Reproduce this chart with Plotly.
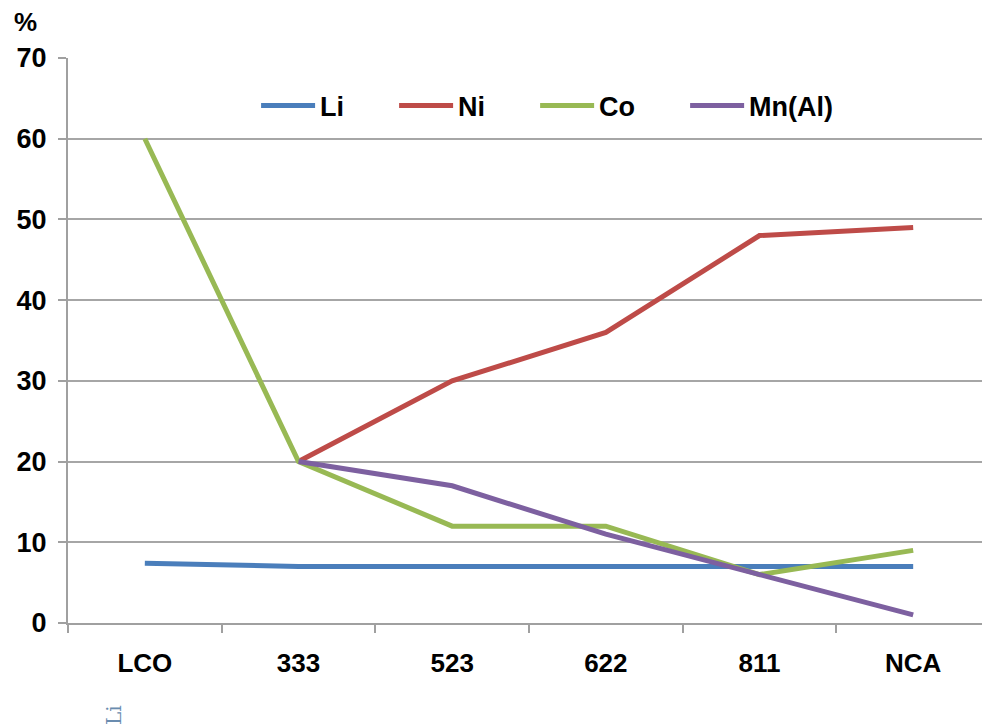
import plotly.graph_objects as go

categories = ["LCO", "333", "523", "622", "811", "NCA"]
li = [7.4, 7, 7, 7, 7, 7]
ni = [None, 20, 30, 36, 48, 49]
co = [60, 20, 12, 12, 6, 9]
mn = [None, 20, 17, 11, 6, 1]
series_names = ["Li", "Ni", "Co", "Mn(Al)"]
colors = ["#4A7EBB", "#BE4B48", "#98B954", "#7D60A0"]
y_ticks = [0, 10, 20, 30, 40, 50, 60, 70]

FONT = "Liberation Sans, Arial, sans-serif"
PAD = "\u00a0" * 6

fig = go.Figure()
for name, vals, col in zip(series_names, [li, ni, co, mn], colors):
    fig.add_trace(go.Scatter(
        x=categories, y=vals, name=name + PAD, mode="lines",
        line=dict(color=col, width=5), connectgaps=False,
    ))

# page body has an 8px default margin; compensate
fig.update_layout(
    width=982, height=720,
    margin=dict(l=60, r=0, t=50, b=105),
    paper_bgcolor="white", plot_bgcolor="white",
    font=dict(family=FONT, size=24, color="black"),
    showlegend=True,
    legend=dict(
        orientation="h", x=0.204, y=0.915, xanchor="left", yanchor="middle",
        bgcolor="rgba(0,0,0,0)", font=dict(family=FONT, size=27, color="black", weight="bold"),
        itemwidth=54, entrywidth=0, tracegroupgap=0,
    ),
    xaxis=dict(
        type="category", range=[-0.5, 5.5],
        showline=True, linecolor="#A0A0A0", linewidth=2,
        ticks="outside", tickson="boundaries", ticklen=8, tickcolor="#A0A0A0", tickwidth=1.5,
        showgrid=False, tickfont=dict(family=FONT, size=26, color="black", weight="bold"),
        ticklabelstandoff=16,
    ),
    yaxis=dict(
        range=[0, 70], tickvals=y_ticks,
        showline=True, linecolor="#A0A0A0", linewidth=2,
        ticks="outside", ticklen=8, tickcolor="#A0A0A0", tickwidth=1.5,
        showgrid=True, gridcolor="#A6A6A6", gridwidth=1.5, zeroline=False,
        tickfont=dict(family=FONT, size=27, color="black", weight="bold"),
        ticklabelstandoff=6,
    ),
)

fig.add_annotation(
    text="%", xref="paper", yref="paper", x=0, y=1.0, xshift=-56, yshift=36,
    xanchor="left", yanchor="middle", showarrow=False,
    font=dict(family=FONT, size=26, color="black", weight="bold"),
)
fig.add_annotation(
    text="Li", xref="paper", yref="paper", x=0, y=0, xshift=46, yshift=-92,
    xanchor="center", yanchor="middle", showarrow=False, textangle=-90,
    font=dict(family="DejaVu Serif, serif", size=20, color="#6A8CAF"),
)

fig.write_html("out.html")
